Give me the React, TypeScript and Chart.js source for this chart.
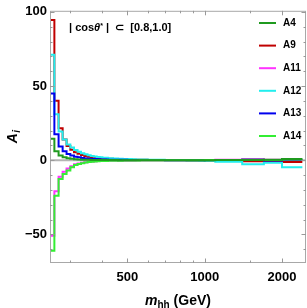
import React, { useEffect, useRef } from "react";
import { Chart, registerables } from "chart.js";
Chart.register(...registerables);

// ---- data ----
const binEdges = [
  250, 260, 270, 280, 290, 300, 310, 320, 330, 340, 350, 360, 370, 380, 390, 400,
  420, 440, 460, 480, 500, 520, 540, 560, 580, 600,
  650, 700, 750, 800, 850, 900, 950, 1000,
  1100, 1400, 1700, 2000, 2400,
];

const seriesNames = ["A4", "A9", "A11", "A12", "A13", "A14"];
const seriesColors = ["#1f9a1f", "#c00000", "#ff33ff", "#22eeee", "#0000ee", "#33ee33"];

const a4Values = [
  14.5, 6.0, 3.2, 2.0, 1.3, 0.9, 0.65, 0.48, 0.36, 0.28, 0.22, 0.18, 0.14, 0.12, 0.1,
  0.08, 0.06, 0.05, 0.04, 0.03, 0.02, 0.02, 0.01, 0.01, 0.0,
  0.0, 0.0, 0.0, 0.0, 0.0, 0.0, 0.0, 0.0,
  0.0, 0.1, 0.2, 0.3, 0.8,
];
const a9Values = [
  94.5, 40, 21.6, 14, 9.5, 7.0, 5.4, 4.3, 3.5, 2.9, 2.4, 2.0, 1.7, 1.5, 1.3,
  1.1, 0.9, 0.75, 0.62, 0.52, 0.44, 0.38, 0.32, 0.28, 0.24,
  0.2, 0.15, 0.1, 0.08, 0.05, 0.02, 0.0, -0.1,
  -0.3, -0.5, -0.7, -0.6, -1.2,
];
const a11Values = [
  -51, -21, -11.2, -7.8, -5.6, -4.0, -2.8, -2.2, -1.7, -1.35, -1.1, -0.9, -0.75, -0.62, -0.52,
  -0.42, -0.35, -0.3, -0.25, -0.2, -0.17, -0.14, -0.12, -0.1, -0.08,
  -0.06, -0.04, -0.02, 0.0, 0.0, 0.1, 0.2, 0.2,
  0.2, 0.3, 0.8, 0.3, 0.2,
];
const a12Values = [
  71, 31, 19.3, 14, 10.5, 8.5, 6.9, 5.7, 4.7, 4.0, 3.4, 2.9, 2.5, 2.2, 1.9,
  1.6, 1.35, 1.15, 1.0, 0.85, 0.72, 0.62, 0.54, 0.46, 0.4,
  0.32, 0.22, 0.15, 0.1, 0.05, 0.0, -0.1, -0.2,
  -0.4, -1.0, -2.7, -1.8, -4.7,
];
const a13Values = [
  45, 17.5, 9.3, 6.0, 4.2, 3.1, 2.4, 1.9, 1.5, 1.2, 1.0, 0.85, 0.72, 0.62, 0.54,
  0.45, 0.38, 0.32, 0.27, 0.23, 0.2, 0.17, 0.14, 0.12, 0.1,
  0.08, 0.06, 0.04, 0.02, 0.0, 0.0, 0.0, 0.0,
  0.1, 0.2, 0.3, -0.2, 0.3,
];
const a14Values = [
  -61, -24, -12.7, -9.3, -6.9, -4.8, -3.3, -2.6, -2.0, -1.6, -1.3, -1.1, -0.9, -0.75, -0.62,
  -0.5, -0.42, -0.35, -0.3, -0.25, -0.2, -0.17, -0.14, -0.12, -0.1,
  -0.08, -0.06, -0.04, -0.02, 0.0, 0.0, 0.0, 0.0,
  0.1, 0.2, 0.3, 0.2, 0.5,
];
const seriesValues = [a4Values, a9Values, a11Values, a12Values, a13Values, a14Values];
// topmost first (Chart.js draws dataset 0 last)
const drawOrder = ["A4", "A14", "A13", "A12", "A11", "A9"];

const xMin = 250;
const xMax = 2480;
const yMin = -69.3;
const yMax = 100.7;
const xTickValues = [500, 1000, 2000];
const xMinorTickValues = [300, 400, 600, 700, 800, 900, 1500];
const yTickValues = [-50, 0, 50, 100];
const yMinorTickValues = [-60, -40, -30, -20, -10, 10, 20, 30, 40, 60, 70, 80, 90];
const annotationText = ["| cos", "θ", "*", " |  ⊂  [0.8,1.0]"];

const FONT = "'Liberation Sans', Arial, sans-serif";

function histPoints(values: number[]) {
  const pts = [{ x: binEdges[0], y: 0 }];
  for (let i = 0; i < values.length; i++) pts.push({ x: binEdges[i], y: values[i] });
  pts.push({ x: binEdges[values.length], y: values[values.length - 1] });
  return pts;
}

const framePlugin = {
  id: "framePlugin",
  beforeDatasetsDraw(chart: any) {
    const { ctx, chartArea: a, scales } = chart;
    const y0 = scales.y.getPixelForValue(0);
    ctx.save();
    ctx.strokeStyle = "#b4b4b4";
    ctx.lineWidth = 2;
    ctx.beginPath();
    ctx.moveTo(a.left, y0);
    ctx.lineTo(a.right, y0);
    ctx.stroke();
    ctx.restore();
  },
  afterDraw(chart: any) {
    const { ctx, chartArea: a, scales } = chart;
    const xs = scales.x;
    const ys = scales.y;
    ctx.save();
    // frame
    ctx.strokeStyle = "#a8a8a8";
    ctx.lineWidth = 1;
    ctx.strokeRect(a.left + 0.5, a.top + 0.5, a.right - a.left - 1, a.bottom - a.top - 1);
    // ticks
    ctx.strokeStyle = "#999999";
    const tick = (x1: number, y1: number, x2: number, y2: number) => {
      ctx.beginPath();
      ctx.moveTo(x1, y1);
      ctx.lineTo(x2, y2);
      ctx.stroke();
    };
    const major = 4.5;
    const minor = 2.5;
    for (const v of xTickValues) {
      const px = Math.round(xs.getPixelForValue(v)) + 0.5;
      tick(px, a.bottom, px, a.bottom - major);
      tick(px, a.top, px, a.top + major);
    }
    for (const v of xMinorTickValues) {
      const px = Math.round(xs.getPixelForValue(v)) + 0.5;
      tick(px, a.bottom, px, a.bottom - minor);
      tick(px, a.top, px, a.top + minor);
    }
    for (const v of yTickValues) {
      const py = Math.round(ys.getPixelForValue(v)) + 0.5;
      tick(a.left, py, a.left + major, py);
      tick(a.right, py, a.right - major, py);
    }
    for (const v of yMinorTickValues) {
      const py = Math.round(ys.getPixelForValue(v)) + 0.5;
      tick(a.left, py, a.left + minor, py);
      tick(a.right, py, a.right - minor, py);
    }

    // legend
    ctx.textBaseline = "middle";
    ctx.textAlign = "left";
    ctx.font = `bold 10px ${FONT}`;
    seriesNames.forEach((name, i) => {
      const cy = 23 + i * 22.6;
      ctx.strokeStyle = seriesColors[i];
      ctx.lineWidth = 2;
      tick(259, cy, 276, cy);
      ctx.fillStyle = "#000";
      ctx.fillText(name, 283, cy);
    });

    // annotation
    ctx.textBaseline = "alphabetic";
    let ax = 69;
    const ay = 31;
    ctx.fillStyle = "#000";
    ctx.font = `bold 11px ${FONT}`;
    ctx.fillText(annotationText[0], ax, ay);
    ax += ctx.measureText(annotationText[0]).width;
    ctx.font = `italic bold 11px ${FONT}`;
    ctx.fillText(annotationText[1], ax, ay);
    ax += ctx.measureText(annotationText[1]).width;
    ctx.font = `bold 7px ${FONT}`;
    ctx.fillText(annotationText[2], ax, ay - 3.5);
    ax += ctx.measureText(annotationText[2]).width;
    ctx.font = `bold 11px ${FONT}`;
    ctx.fillText(annotationText[3], ax, ay);

    // y title
    ctx.save();
    ctx.translate(17, (a.top + a.bottom) / 2);
    ctx.rotate(-Math.PI / 2);
    ctx.font = `italic bold 14px ${FONT}`;
    const wA = ctx.measureText("A").width;
    ctx.font = `italic bold 10px ${FONT}`;
    const wi = ctx.measureText("i").width;
    const tx = -(wA + wi) / 2;
    ctx.font = `italic bold 14px ${FONT}`;
    ctx.fillText("A", tx, 0);
    ctx.font = `italic bold 10px ${FONT}`;
    ctx.fillText("i", tx + wA + 0.5, 3);
    ctx.restore();

    // x title
    ctx.font = `italic bold 14px ${FONT}`;
    const wm = ctx.measureText("m").width;
    ctx.font = `bold 10px ${FONT}`;
    const wh = ctx.measureText("hh").width;
    ctx.font = `bold 14px ${FONT}`;
    const wg = ctx.measureText(" (GeV)").width;
    let xx = (a.left + a.right) / 2 - (wm + wh + wg) / 2;
    const xy = 305;
    ctx.font = `italic bold 14px ${FONT}`;
    ctx.fillText("m", xx, xy);
    xx += wm;
    ctx.font = `bold 10px ${FONT}`;
    ctx.fillText("hh", xx, xy + 3);
    xx += wh;
    ctx.font = `bold 14px ${FONT}`;
    ctx.fillText(" (GeV)", xx, xy);
    ctx.restore();
  },
};

export default function App() {
  const ref = useRef<HTMLCanvasElement>(null);
  useEffect(() => {
    if (!ref.current) return;
    const datasets = drawOrder.map((name) => {
      const i = seriesNames.indexOf(name);
      return {
        label: name,
        data: histPoints(seriesValues[i]),
        borderColor: seriesColors[i],
        backgroundColor: seriesColors[i],
        borderWidth: 2,
        pointRadius: 0,
        stepped: "before" as const,
        fill: false,
        tension: 0,
      };
    });
    const chart = new Chart(ref.current, {
      type: "line",
      data: { datasets },
      options: {
        responsive: false,
        animation: false,
        layout: { padding: { top: 8, right: 1, left: 0, bottom: 0 } },
        plugins: { legend: { display: false }, tooltip: { enabled: false } },
        scales: {
          x: {
            type: "logarithmic",
            min: xMin,
            max: xMax,
            grid: { display: false, drawTicks: false },
            border: { display: false },
            afterBuildTicks: (s: any) => {
              s.ticks = xTickValues.map((v) => ({ value: v }));
            },
            afterFit: (s: any) => {
              s.height = 45;
            },
            ticks: {
              autoSkip: false,
              maxRotation: 0,
              padding: 7,
              color: "#000",
              font: { family: FONT, size: 13, weight: "bold" },
              callback: (v: any) => String(v),
            },
          },
          y: {
            type: "linear",
            min: yMin,
            max: yMax,
            grid: { display: false, drawTicks: false },
            border: { display: false },
            afterBuildTicks: (s: any) => {
              s.ticks = yTickValues.map((v) => ({ value: v }));
            },
            afterFit: (s: any) => {
              s.width = 50;
            },
            ticks: {
              padding: 3,
              color: "#000",
              font: { family: FONT, size: 13, weight: "bold" },
              callback: (v: any) => (v < 0 ? "\u2212" + Math.abs(v) : String(v)),
            },
          },
        },
      },
      plugins: [framePlugin],
    } as any);
    return () => chart.destroy();
  }, []);
  return (
    <div style={{ position: "absolute", left: 0, top: 0, width: 307, height: 308 }}>
      <canvas ref={ref} width={307} height={308} style={{ display: "block" }} />
    </div>
  );
}
